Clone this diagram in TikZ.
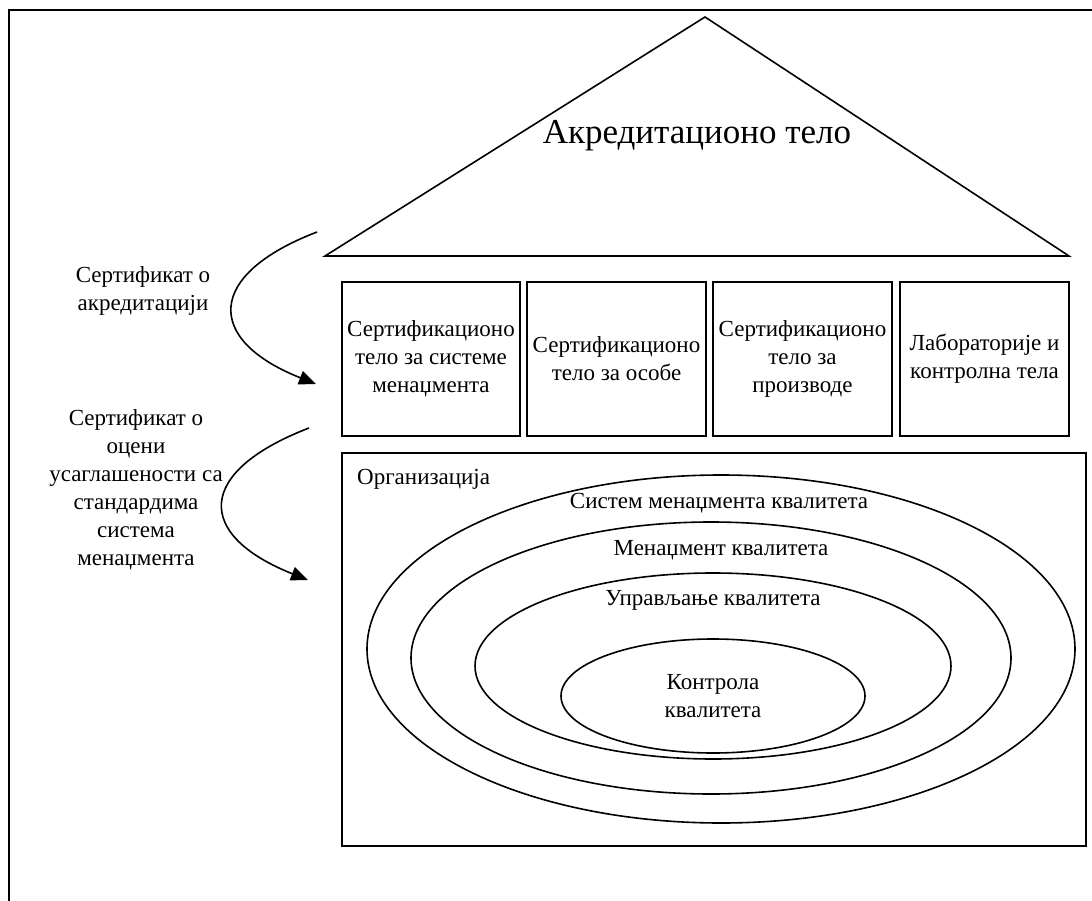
\documentclass[tikz,border=0pt]{standalone}
\usepackage{fontspec}
\setmainfont{Liberation Serif}
\usetikzlibrary{shapes.geometric, arrows.meta}

\begin{document}
\begin{tikzpicture}[x=1pt,y=-1pt,
  frame/.style={line width=2.5pt},
  line/.style={line width=1.6pt},
  unit/.style={draw, line width=1.6pt, minimum height=154pt, inner sep=2pt,
               align=center, font=\fontsize{23}{28}\selectfont},
  ring/.style={draw, ellipse, line width=1.6pt, inner sep=0pt},
  lbl/.style={align=center, font=\fontsize{23}{28}\selectfont, inner sep=0pt},
  flow/.style={line width=1.6pt, -{Triangle[length=17pt,width=14pt]}}
]
\useasboundingbox (0,0) rectangle (1092,901);

% outer frame (left and top edges)
\draw[frame] (9,901) -- (9,10) -- (1092,10);

% roof: accreditation body
\coordinate (roofL) at (325,256);
\coordinate (roofT) at (705,17);
\coordinate (roofR) at (1069,256);
\draw[line, line join=miter] (roofL) -- (roofT) -- (roofR) -- cycle;
\node[lbl, font=\fontsize{35}{40}\selectfont] (title) at (697,136) {Акредитационо тело};

% certification and inspection bodies
\node[unit, minimum width=178pt] (cms) at (431,359)
  {Сертификационо\\тело за системе\\менаџмента};
\node[unit, minimum width=179pt] (cpe) at (616.5,359)
  {Сертификационо\\тело за особе};
\node[unit, minimum width=179pt] (cpr) at (802.5,359)
  {Сертификационо\\тело за\\производе};
\node[unit, minimum width=169pt] (lab) at (984.5,359)
  {Лабораторије и\\контролна тела};

% organisation
\node[draw, line width=1.6pt, minimum width=744pt, minimum height=393pt] (org) at (714,649.5) {};
\node[lbl, anchor=west] (orgt) at (357,479) {Организација};

% nested quality levels
\node[ring, minimum width=708pt, minimum height=348pt] (qms) at (721,649) {};
\node[ring, minimum width=600pt, minimum height=272pt] (qm)  at (711,658) {};
\node[ring, minimum width=476pt, minimum height=186pt] (qa)  at (713,666) {};
\node[ring, minimum width=304pt, minimum height=114pt] (qc)  at (713,696) {};
\node[lbl] (qmst) at (719,503) {Систем менаџмента квалитета};
\node[lbl] (qmt)  at (721,550) {Менаџмент квалитета};
\node[lbl] (qat)  at (713,600) {Управљање квалитета};
\node[lbl] (qct)  at (713,696) {Контрола\\квалитета};

% certificates
\node[lbl] (cert1) at (143,291) {Сертификат о\\акредитацији};
\node[lbl] (cert2) at (136,490) {Сертификат о\\оцени\\усаглашености са\\стандардима\\система\\менаџмента};

\coordinate (a1s) at (317,232);
\coordinate (a1e) at (316,384);
\coordinate (a2s) at (309,428);
\coordinate (a2e) at (308,580);
\draw[flow] (a1s) .. controls (205,275) and (205,340) .. (a1e);
\draw[flow] (a2s) .. controls (195,472) and (195,535) .. (a2e);
\end{tikzpicture}
\end{document}
